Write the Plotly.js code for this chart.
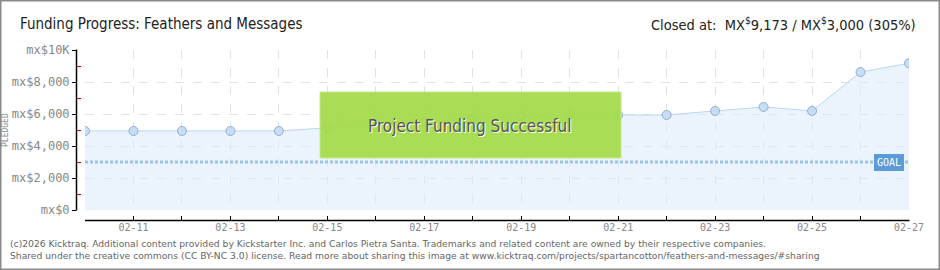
<!DOCTYPE html>
<html><head><meta charset="utf-8">
<script src="https://cdn.plot.ly/plotly-3.0.1.min.js"></script>
<style>html,body{margin:0;padding:0;background:#fff}#chart{width:940px;height:270px}</style>
</head><body><div id="chart"></div>
<script>
const dates = ['2026-02-10','2026-02-11','2026-02-12','2026-02-13','2026-02-14','2026-02-15','2026-02-16','2026-02-17','2026-02-18','2026-02-19','2026-02-20','2026-02-21','2026-02-22','2026-02-23','2026-02-24','2026-02-25','2026-02-26','2026-02-27'];
const pledged = [4940,4940,4940,4940,4940,5130,5300,5500,5700,5850,5940,5940,5940,6190,6440,6190,8620,9173];
const goal = 3000;
const yTickVals = [0,2000,4000,6000,8000,10000];
const yTickText = ['mx$0','mx$2,000','mx$4,000','mx$6,000','mx$8,000','mx$10K'];
const titleText = 'Funding Progress: Feathers and Messages';
const closedText = 'Closed at:  MX<sup>$</sup>9,173 / MX<sup>$</sup>3,000 (305%)';
const footer1 = '(c)2026 Kicktraq. Additional content provided by Kickstarter Inc. and Carlos Pietra Santa. Trademarks and related content are owned by their respective companies.';
const footer2 = 'Shared under the creative commons (CC BY-NC 3.0) license. Read more about sharing this image at www.kicktraq.com/projects/spartancotton/feathers-and-messages/#sharing';

const W = 940, H = 270;
const px = v => v / W, py = v => 1 - v / H;

const traces = [
  {x: dates, y: pledged, type: 'scatter', mode: 'lines+markers', fill: 'tozeroy',
   fillcolor: 'rgba(222,236,251,0.6)', line: {color: '#b8d6f4', width: 1},
   marker: {size: 9, color: '#c6ddf6', line: {color: '#93aecd', width: 1}}, hoverinfo: 'skip'},
  {x: [dates[0], dates[dates.length-1]], y: [goal, goal], type: 'scatter', mode: 'lines',
   line: {color: '#9cc4ea', width: 3, dash: '3px,2px'}, hoverinfo: 'skip'}
];

const layout = {
  width: W, height: H, margin: {l: 0, r: 0, t: 0, b: 0},
  paper_bgcolor: '#fff', plot_bgcolor: 'rgba(0,0,0,0)', showlegend: false,
  title: {text: titleText, x: px(20), xanchor: 'left', y: py(24), yanchor: 'middle',
          font: {family: 'DejaVu Sans Condensed, DejaVu Sans', size: 15, color: '#222'}},
  xaxis: {type: 'date', domain: [px(85), px(909)], anchor: 'free', position: 50/H,
          range: [dates[0], dates[dates.length-1]],
          tick0: '2026-02-11', dtick: 2*86400000, tickformat: '%m-%d',
          ticks: 'inside', ticklen: 4, tickcolor: '#000', showline: false,
          showgrid: true, gridcolor: '#e2e2e2', griddash: 'dash', zeroline: false,
          tickfont: {family: 'DejaVu Sans Mono', size: 10, color: '#888'},
          minor: {dtick: 86400000, tick0: '2026-02-10', ticks: 'inside', ticklen: 4, tickcolor: '#000',
                  showgrid: true, gridcolor: '#e2e2e2', griddash: 'dash'}},
  yaxis: {domain: [60/H, 220/H], anchor: 'free', position: px(76), range: [0, 10000],
          tickvals: yTickVals, ticktext: yTickText, ticks: 'outside', ticklen: 4, tickcolor: '#000',
          showline: false, zeroline: false,
          showgrid: true, gridcolor: '#e2e2e2', griddash: 'dash',
          tickfont: {family: 'DejaVu Sans Mono', size: 12, color: '#888'},
          minor: {tickvals: [1000,3000,5000,7000,9000], ticks: 'inside', ticklen: 4, tickcolor: '#e00000', showgrid: false}},
  shapes: [
    {type: 'line', xref: 'paper', yref: 'paper', x0: px(76.5), x1: px(76.5), y0: py(210.5), y1: py(49.5),
     line: {color: '#000', width: 1.5}},
    {type: 'line', xref: 'paper', yref: 'paper', x0: px(85), x1: px(909.5), y0: py(220.5), y1: py(220.5),
     line: {color: '#000', width: 1.5}},
    {type: 'rect', xref: 'paper', yref: 'paper', x0: px(320), x1: px(621), y0: py(158), y1: py(92),
     fillcolor: 'rgba(164,218,72,0.93)', line: {color: '#c4e88a', width: 1}, layer: 'above'},
    {type: 'rect', xref: 'paper', yref: 'paper', x0: 0, x1: 1, y0: 0, y1: 1,
     line: {color: '#8a8a8a', width: 3}, fillcolor: 'rgba(0,0,0,0)', layer: 'above'}
  ],
  annotations: [
    {text: closedText, xref: 'paper', yref: 'paper', x: px(918), y: py(24), xanchor: 'right', yanchor: 'middle',
     showarrow: false, font: {family: 'DejaVu Sans Condensed, DejaVu Sans', size: 14.5, color: '#222'}},
    {text: 'Project Funding Successful', xref: 'paper', yref: 'paper', x: px(470), y: py(126),
     xanchor: 'center', yanchor: 'middle', showarrow: false,
     font: {family: 'DejaVu Sans Condensed, DejaVu Sans', size: 17, color: '#555', shadow: '1px 1px 0px #fff'}},
    {text: 'GOAL', x: dates[dates.length-1], y: goal, xref: 'x', yref: 'y', xanchor: 'right', yanchor: 'middle',
     xshift: -5, showarrow: false, bgcolor: '#5b9bd9', bordercolor: '#5b9bd9', borderpad: 2,
     font: {family: 'DejaVu Sans Mono', size: 10, color: '#fff'}},
    {text: 'PLEDGED', xref: 'paper', yref: 'paper', x: px(6), y: py(130), textangle: -90,
     xanchor: 'center', yanchor: 'middle', showarrow: false,
     font: {family: 'DejaVu Sans Mono', size: 8, color: '#888'}},
    {text: footer1, xref: 'paper', yref: 'paper', x: px(8), y: py(243), xanchor: 'left', yanchor: 'middle',
     showarrow: false, font: {family: 'DejaVu Sans', size: 9.2, color: '#666'}},
    {text: footer2, xref: 'paper', yref: 'paper', x: px(8), y: py(255), xanchor: 'left', yanchor: 'middle',
     showarrow: false, font: {family: 'DejaVu Sans', size: 9.2, color: '#666'}}
  ]
};
Plotly.newPlot('chart', traces, layout, {displayModeBar: false, staticPlot: true});
</script></body></html>
